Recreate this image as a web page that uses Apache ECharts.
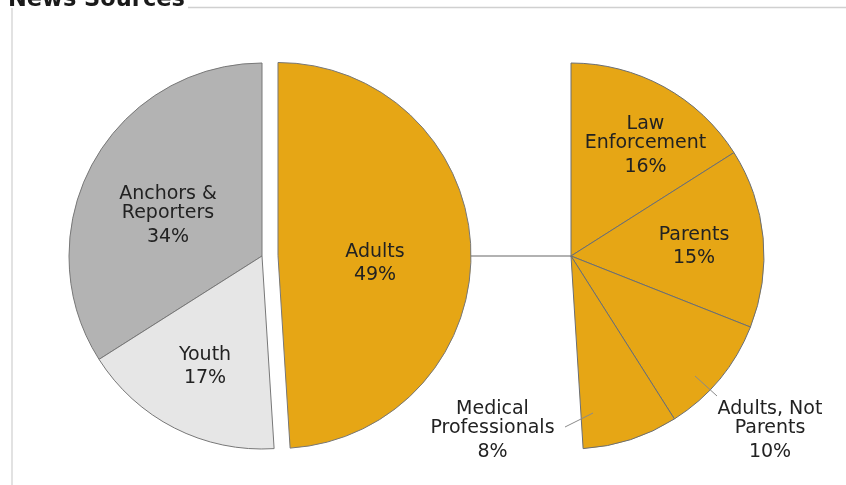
<!DOCTYPE html>
<html>
<head>
<meta charset="utf-8">
<script src="https://cdn.jsdelivr.net/npm/echarts@6/dist/echarts.min.js"></script>
<style>html,body{margin:0;padding:0;background:#fff}#chart{width:846px;height:485px}</style>
</head>
<body>
<div id="chart"></div>
<script>
// ---- data ----
const categories = ['Anchors & Reporters', 'Youth', 'Adults'];
const categoryLabels = ['Anchors &\nReporters', 'Youth', 'Adults'];
const values = [34, 17, 49];
const subCategories = ['Law Enforcement', 'Parents', 'Adults, Not Parents', 'Medical Professionals'];
const subCategoryLabels = ['Law\nEnforcement', 'Parents', 'Adults, Not\nParents', 'Medical\nProfessionals'];
const subValues = [16, 15, 10, 8];

// ---- layout / style ----
const R = 193;
const leftC = [262, 256];
const rightC = [571, 256];
const explode = 16;
const explodeIndex = 2;
const FONT = 'DejaVu Sans';
const colors = ['#b3b3b3', '#e6e6e6', '#e6a615'];
const orange = '#e6a615';
// label block centres relative to pie centre
const leftLabelOff = [[-94, -38], [-57, 113], [113, 10]];
const rightLabelOff = [[74.5, -108], [123, -7], [199, 177], [-78.5, 177]];
// leader lines (start, end) relative to right pie centre
const rightLeader = [null, null, [[124, 120], [146, 140]], [[22, 157], [-6, 171]]];

function fmtLabel(name, v) {
  return name.split('\n').map(s => '{n|' + s + '}').join('\n') + '\n{p|' + v + '%}';
}
const rich = {
  n: { fontFamily: FONT, fontSize: 19, lineHeight: 19, color: '#222' },
  p: { fontFamily: FONT, fontSize: 19, lineHeight: 28, color: '#222' }
};
const hidden = { color: 'rgba(0,0,0,0)', borderWidth: 0 };

// explode vector for the detached slice (pie starts at 12 o'clock, counter-clockwise)
const total = values.reduce((a, b) => a + b, 0);
const before = values.slice(0, explodeIndex).reduce((a, b) => a + b, 0);
const midA = (90 + (before + values[explodeIndex] / 2) / total * 360) * Math.PI / 180;
const explodeC = [leftC[0] + explode * Math.cos(midA), leftC[1] - explode * Math.sin(midA)];

const leftData = categories.map((c, i) => ({
  name: c, value: values[i],
  itemStyle: i === explodeIndex ? hidden : { color: colors[i] },
  label: i === explodeIndex ? { show: false } : { formatter: fmtLabel(categoryLabels[i], values[i]) }
}));
const leftExplodedData = categories.map((c, i) => ({
  name: c, value: values[i],
  itemStyle: i === explodeIndex ? { color: colors[i] } : hidden,
  label: i === explodeIndex ? { formatter: fmtLabel(categoryLabels[i], values[i]) } : { show: false }
}));

const rest = 100 - subValues.reduce((a, b) => a + b, 0);
const rightData = subCategories.map((c, i) => ({
  name: c, value: subValues[i],
  itemStyle: { color: orange },
  label: { formatter: fmtLabel(subCategoryLabels[i], subValues[i]) }
})).concat([{
  name: 'rest', value: rest,
  itemStyle: hidden,
  label: { show: false }
}]);

const leaderGraphics = rightLeader.filter(Boolean).map(l => ({
  type: 'line', z: 100,
  shape: { x1: rightC[0] + l[0][0], y1: rightC[1] + l[0][1], x2: rightC[0] + l[1][0], y2: rightC[1] + l[1][1] },
  style: { stroke: '#8a8a8a', lineWidth: 1 }
}));

function leftLayout(p) {
  const o = leftLabelOff[p.dataIndex];
  return { x: leftC[0] + o[0], y: leftC[1] + o[1], align: 'center', verticalAlign: 'middle' };
}

const chart = echarts.init(document.getElementById('chart'), null, { renderer: 'canvas' });
chart.setOption({
  animation: false,
  title: {
    text: 'News Sources', left: 3, top: -16,
    textStyle: { fontFamily: FONT, fontWeight: 'bold', fontSize: 22.5, color: '#1a1a1a' }
  },
  graphic: [
    { type: 'line', shape: { x1: 188, y1: 7.5, x2: 846, y2: 7.5 }, style: { stroke: '#d0d0d0', lineWidth: 1.5 }, z: -1 },
    { type: 'line', shape: { x1: 12, y1: 8, x2: 12, y2: 485 }, style: { stroke: '#d8d8d8', lineWidth: 1.5 }, z: -1 },
    { type: 'line', shape: { x1: explodeC[0] + R, y1: rightC[1], x2: rightC[0], y2: rightC[1] }, style: { stroke: '#999', lineWidth: 1.5 }, z: -1 }
  ].concat(leaderGraphics),
  series: [
    {
      type: 'pie', center: leftC, radius: [0, R], startAngle: 90, clockwise: false,
      silent: true,
      itemStyle: { borderColor: '#777', borderWidth: 1 },
      emphasis: { disabled: true },
      label: { show: true, position: 'inside', rich: rich, overflow: 'none' },
      labelLine: { show: false },
      labelLayout: leftLayout,
      data: leftData
    },
    {
      type: 'pie', center: explodeC, radius: [0, R], startAngle: 90, clockwise: false,
      silent: true,
      itemStyle: { borderColor: '#777', borderWidth: 1 },
      emphasis: { disabled: true },
      label: { show: true, position: 'inside', rich: rich, overflow: 'none' },
      labelLine: { show: false },
      labelLayout: leftLayout,
      data: leftExplodedData
    },
    {
      type: 'pie', center: rightC, radius: [0, R], startAngle: 90, clockwise: true,
      silent: true,
      itemStyle: { borderColor: '#6a6e74', borderWidth: 1 },
      emphasis: { disabled: true },
      label: { show: true, position: 'inside', rich: rich, overflow: 'none' },
      labelLine: { show: false },
      labelLayout: function (p) {
        const o = rightLabelOff[p.dataIndex];
        if (!o) return {};
        return { x: rightC[0] + o[0], y: rightC[1] + o[1], align: 'center', verticalAlign: 'middle' };
      },
      data: rightData
    }
  ]
});
</script>
</body>
</html>
